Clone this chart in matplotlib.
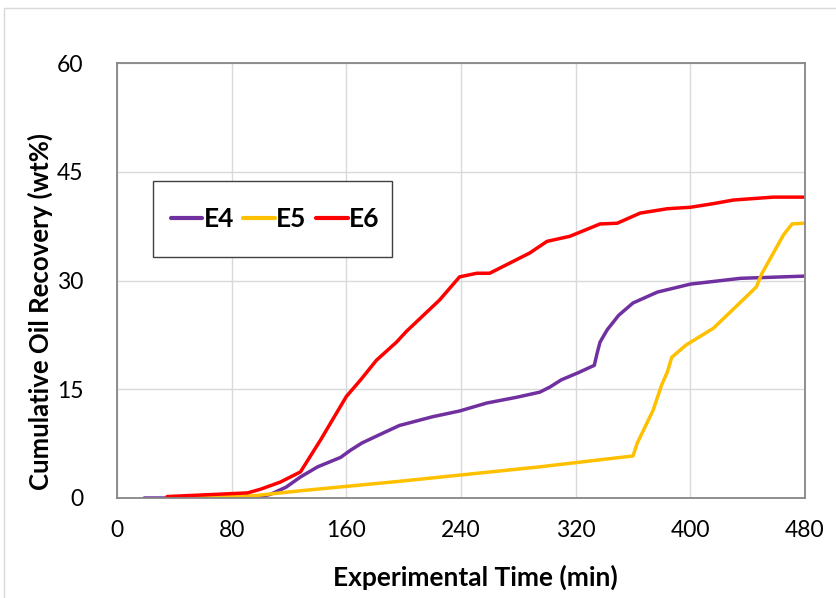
import matplotlib.pyplot as plt
from matplotlib.patches import Rectangle

# cumulative oil recovery (wt%) vs experimental time (min)
e4_t = [19, 86, 100, 107, 118, 128, 140, 156, 163, 171, 185, 197, 220, 239, 258,
        279, 295, 302, 310, 322, 333, 335, 337, 342, 350, 360, 377, 400, 435, 479]
e4_rec = [0, 0, 0.2, 0.5, 1.5, 2.9, 4.3, 5.6, 6.6, 7.6, 8.9, 10.0, 11.2, 12.0, 13.1,
          13.9, 14.6, 15.3, 16.3, 17.3, 18.3, 20.0, 21.5, 23.2, 25.2, 26.9, 28.4, 29.5, 30.3, 30.6]

e5_t = [49, 95, 128, 197, 295, 360, 363, 365, 374, 380, 384, 387, 397, 416, 435,
        446, 450, 454, 465, 471, 479]
e5_rec = [0, 0.3, 1.0, 2.3, 4.3, 5.8, 7.6, 8.4, 12.1, 15.6, 17.4, 19.4, 21.1, 23.4, 27.0,
          29.1, 31.0, 32.4, 36.3, 37.8, 37.9]

e6_t = [35, 91, 100, 114, 128, 142, 160, 170, 181, 195, 202, 225, 239, 251, 260, 274,
        288, 300, 316, 337, 349, 365, 384, 400, 416, 430, 458, 479]
e6_rec = [0.2, 0.7, 1.2, 2.2, 3.6, 8.0, 14.0, 16.3, 19.0, 21.5, 23.0, 27.3, 30.5, 31.0, 31.0, 32.4,
          33.8, 35.4, 36.1, 37.8, 37.9, 39.3, 39.9, 40.1, 40.6, 41.1, 41.5, 41.5]

x_ticks = [0, 80, 160, 240, 320, 400, 480]
y_ticks = [0, 15, 30, 45, 60]

plt.rcParams['font.family'] = ['Lato', 'DejaVu Sans']

W, H = 837, 598
AX_L, AX_B, AX_W, AX_H = 117, 498, 688, 435   # plot area in pixels (left, bottom, width, height)


def ax_x(px):
    return (px - AX_L) / AX_W


def ax_y(py):
    return (AX_B - py) / AX_H


fig = plt.figure(figsize=(W / 100, H / 100), dpi=100)
fig.patches.append(Rectangle((4 / W, -0.1), 2, 1.1 - 8 / H, transform=fig.transFigure,
                             fill=False, edgecolor='#d9d9d9', lw=1.0))

ax = fig.add_axes([AX_L / W, (H - AX_B) / H, AX_W / W, AX_H / H])
ax.plot(e4_t, e4_rec, color='#7030A0', lw=2.5, label='E4', solid_capstyle='round')
ax.plot(e5_t, e5_rec, color='#FFC000', lw=2.5, label='E5', solid_capstyle='round')
ax.plot(e6_t, e6_rec, color='#FF0000', lw=2.5, label='E6', solid_capstyle='round')

ax.set_xlim(0, 480)
ax.set_ylim(0, 60)
ax.set_xticks(x_ticks)
ax.set_yticks(y_ticks)
ax.tick_params(length=0, labelsize=16.5)
ax.tick_params(axis='x', pad=16)
ax.tick_params(axis='y', pad=24)
ax.grid(True, color='#d9d9d9', lw=1.0)
ax.set_axisbelow(True)
for s in ax.spines.values():
    s.set_color('#868686')
    s.set_linewidth(1.3)

ax.set_xlabel('Experimental Time (min)', fontsize=19, fontweight='bold', va='center')
ax.set_ylabel('Cumulative Oil Recovery (wt%)', fontsize=18.5, fontweight='bold', va='center')
ax.xaxis.set_label_coords(ax_x(475), ax_y(577))
ax.yaxis.set_label_coords(ax_x(40), ax_y(312))

# legend box drawn separately so its padding can differ in x and y
ax.add_patch(Rectangle((ax_x(153), ax_y(257)), ax_x(392) - ax_x(153), ax_y(181) - ax_y(257),
                       transform=ax.transAxes, fill=True, facecolor='white',
                       edgecolor='#404040', lw=1.0, zorder=5))
leg = ax.legend(loc='center', bbox_to_anchor=(ax_x(275), ax_y(219)),
                ncol=3, frameon=False, handlelength=1.2, handletextpad=0.05,
                columnspacing=0.35, borderpad=0, borderaxespad=0,
                prop={'size': 19, 'weight': 'bold'})
leg.set_zorder(6)
for line in leg.get_lines():
    line.set_linewidth(3)

fig.savefig('out.png', dpi=100)
